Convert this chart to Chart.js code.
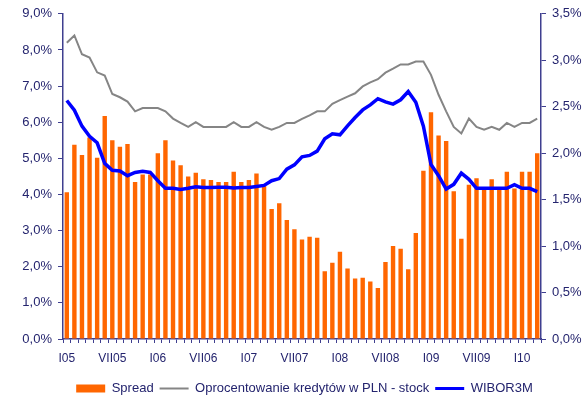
<!DOCTYPE html>
<html>
<head>
<meta charset="utf-8">
<script src="https://cdn.jsdelivr.net/npm/chart.js"></script>
<style>
  html, body { margin: 0; padding: 0; background: #fff; }
  #wrap { width: 588px; height: 398px; }
</style>
</head>
<body>
<div id="wrap"><canvas id="chartSpread" width="588" height="398"></canvas></div>
<script>
// Monthly data, I 2005 - III 2010
const months = [
  'I05','II05','III05','IV05','V05','VI05','VII05','VIII05','IX05','X05','XI05','XII05',
  'I06','II06','III06','IV06','V06','VI06','VII06','VIII06','IX06','X06','XI06','XII06',
  'I07','II07','III07','IV07','V07','VI07','VII07','VIII07','IX07','X07','XI07','XII07',
  'I08','II08','III08','IV08','V08','VI08','VII08','VIII08','IX08','X08','XI08','XII08',
  'I09','II09','III09','IV09','V09','VI09','VII09','VIII09','IX09','X09','XI09','XII09',
  'I10','II10','III10'
];

// labels printed under the x axis
const tickLabels = ['I05','VII05','I06','VII06','I07','VII07','I08','VII08','I09','VII09','I10'];

// spread, right axis (%)
const spread = [
  1.58, 2.09, 1.98, 2.17, 1.95, 2.40, 2.14, 2.07, 2.10, 1.69,
  1.77, 1.77, 2.00, 2.14, 1.92, 1.87, 1.75, 1.79, 1.72, 1.71,
  1.69, 1.69, 1.80, 1.69, 1.71, 1.78, 1.65, 1.40, 1.46, 1.28,
  1.18, 1.07, 1.10, 1.09, 0.73, 0.82, 0.94, 0.76, 0.65, 0.66,
  0.62, 0.55, 0.83, 1.00, 0.97, 0.75, 1.14, 1.81, 2.44, 2.19,
  2.13, 1.59, 1.08, 1.66, 1.73, 1.62, 1.72, 1.62, 1.80, 1.62,
  1.80, 1.80, 2.00
];

// loan rate, PLN stock, left axis (%)
const loanRate = [
  8.20, 8.40, 7.88, 7.79, 7.38, 7.29, 6.78, 6.69, 6.57, 6.30,
  6.39, 6.39, 6.39, 6.30, 6.10, 5.98, 5.87, 6.00, 5.87, 5.87,
  5.87, 5.87, 6.00, 5.87, 5.87, 6.00, 5.87, 5.79, 5.87, 5.98,
  5.98, 6.09, 6.19, 6.30, 6.30, 6.51, 6.61, 6.71, 6.80, 6.99,
  7.10, 7.19, 7.37, 7.48, 7.60, 7.60, 7.68, 7.68, 7.31, 6.76,
  6.30, 5.87, 5.69, 6.10, 5.87, 5.79, 5.87, 5.79, 5.98, 5.87,
  5.98, 5.98, 6.10
];

// WIBOR 3M, left axis (%)
const wibor3m = [
  6.60, 6.33, 5.89, 5.61, 5.43, 4.86, 4.67, 4.65, 4.52, 4.61,
  4.64, 4.61, 4.38, 4.17, 4.17, 4.14, 4.17, 4.21, 4.19, 4.19,
  4.20, 4.20, 4.18, 4.19, 4.19, 4.22, 4.25, 4.38, 4.44, 4.70,
  4.82, 5.04, 5.08, 5.20, 5.54, 5.68, 5.65, 5.90, 6.13, 6.34,
  6.48, 6.65, 6.56, 6.50, 6.62, 6.85, 6.55, 5.89, 4.83, 4.52,
  4.15, 4.28, 4.59, 4.42, 4.17, 4.17, 4.17, 4.17, 4.17, 4.27,
  4.17, 4.17, 4.08
];

const navy = '#24246e';
const axisColor = '#3f3f8f';
const font = "'Liberation Sans', Arial, sans-serif";

const pct = v => v.toFixed(1).replace('.', ',') + '%';

const ctx = document.getElementById('chartSpread').getContext('2d');
new Chart(ctx, {
  data: {
    labels: months,
    datasets: [
      {
        type: 'bar',
        label: 'Spread',
        data: spread,
        yAxisID: 'y1',
        backgroundColor: '#ff6600',
        borderWidth: 0,
        barPercentage: 0.58,
        categoryPercentage: 1,
        pointStyle: 'rect',
        order: 3
      },
      {
        type: 'line',
        label: 'Oprocentowanie kredytów w PLN - stock',
        data: loanRate,
        yAxisID: 'y',
        borderColor: '#858585',
        borderWidth: 2,
        pointRadius: 0,
        pointBorderWidth: 2,
        pointStyle: 'line',
        tension: 0,
        order: 2
      },
      {
        type: 'line',
        label: 'WIBOR3M',
        data: wibor3m,
        yAxisID: 'y',
        borderColor: '#0000ff',
        borderWidth: 3.5,
        pointRadius: 0,
        pointBorderWidth: 3,
        pointStyle: 'line',
        tension: 0,
        order: 1
      }
    ]
  },
  options: {
    responsive: false,
    animation: false,
    devicePixelRatio: 1,
    layout: { padding: { top: 6, left: 21, right: 0, bottom: -7 } },
    plugins: {
      tooltip: { enabled: false },
      legend: {
        position: 'bottom',
        labels: {
          usePointStyle: true,
          pointStyleWidth: 29,
          boxHeight: 8,
          padding: 6,
          color: navy,
          font: { family: font, size: 13 },
          sort: (a, b) => a.datasetIndex - b.datasetIndex
        }
      }
    },
    scales: {
      x: {
        grid: { drawOnChartArea: false, tickLength: 4, color: axisColor },
        border: { color: axisColor, width: 1.5 },
        ticks: {
          autoSkip: false,
          maxRotation: 0,
          padding: 8,
          color: navy,
          font: { family: font, size: 12 },
          callback: function (val) {
            const m = this.getLabelForValue(val);
            return tickLabels.includes(m) ? m : '';
          }
        },
        afterFit: s => { s.height = 37; }
      },
      y: {
        position: 'left',
        min: 0,
        max: 9,
        grid: { drawOnChartArea: false, tickLength: 5, color: axisColor },
        border: { color: axisColor, width: 1.5 },
        ticks: {
          stepSize: 1,
          padding: 6,
          color: navy,
          font: { family: font, size: 13 },
          callback: v => pct(v)
        },
        afterFit: s => { s.width = 42; }
      },
      y1: {
        position: 'right',
        min: 0,
        max: 3.5,
        grid: { drawOnChartArea: false, tickLength: 5, color: axisColor },
        border: { color: axisColor, width: 1.5 },
        ticks: {
          stepSize: 0.5,
          padding: 6,
          color: navy,
          font: { family: font, size: 13 },
          callback: v => pct(v)
        },
        afterFit: s => { s.width = 47; }
      }
    }
  }
});
</script>
</body>
</html>
